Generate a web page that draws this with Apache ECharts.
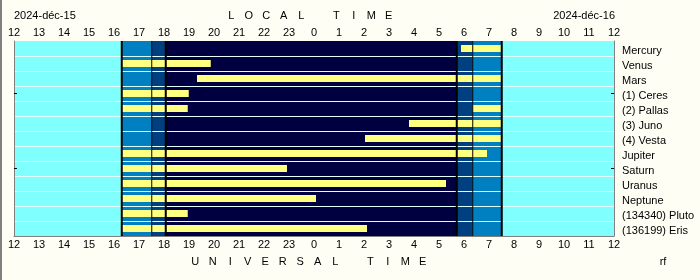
<!DOCTYPE html>
<html>
<head>
<meta charset="utf-8">
<script src="https://cdn.jsdelivr.net/npm/echarts@6/dist/echarts.min.js"></script>
<style>
  html, body { margin: 0; padding: 0; background: #FFFEF5; }
  #chart { width: 700px; height: 280px; }
</style>
</head>
<body>
<div id="chart"></div>
<script>
// Planets listed top to bottom
const planets = ['Mercury', 'Venus', 'Mars', '(1) Ceres', '(2) Pallas', '(3) Juno', '(4) Vesta',
  'Jupiter', 'Saturn', 'Uranus', 'Neptune', '(134340) Pluto', '(136199) Eris'];

// Hour tick labels, noon to noon
const hourLabels = ['12', '13', '14', '15', '16', '17', '18', '19', '20', '21', '22', '23',
  '0', '1', '2', '3', '4', '5', '6', '7', '8', '9', '10', '11', '12'];

// Twilight limits (clock hours): sunset side and sunrise side
const eveningTwilight = [16.31, 17.51, 18.07];
const morningTwilight = [5.71, 6.35, 7.51];

// Visibility segments: [row, start, end] in hours counted from noon of the first day
const visibility = [
  [0, 29.88, 31.51],
  [1, 16.31, 19.87],
  [2, 19.32, 31.51],
  [3, 16.31, 18.99],
  [4, 16.31, 18.95],
  [4, 30.35, 31.51],
  [5, 27.80, 31.51],
  [6, 26.04, 31.51],
  [7, 16.31, 30.92],
  [8, 16.31, 22.92],
  [9, 16.31, 29.28],
  [10, 16.31, 24.08],
  [11, 16.31, 18.95],
  [12, 16.31, 26.12]
];

// Rows carrying an edge tick
const tickedRows = [3, 8];

const dateLeft = '2024-déc-15';
const dateRight = '2024-déc-16';
const topTitle = 'LOCAL TIME';
const bottomTitle = 'UNIVERSAL TIME';
const signature = 'rf';

const HOUR_MIN = 12, HOUR_MAX = 36;
const FONT_FAMILY = '"Liberation Sans", Arial, sans-serif';
const FONT = '11px ' + FONT_FAMILY;
const zoneColours = ['#80FFFF', '#0080C0', '#004080', '#000040'];

const morning = morningTwilight.map(h => h + 24);
// [start, end, colour index]
const zones = [
  [HOUR_MIN, eveningTwilight[0], 0],
  [eveningTwilight[0], eveningTwilight[1], 1],
  [eveningTwilight[1], eveningTwilight[2], 2],
  [eveningTwilight[2], morning[0], 3],
  [morning[0], morning[1], 2],
  [morning[1], morning[2], 1],
  [morning[2], HOUR_MAX, 0]
];
// [hour, line width]
const limits = [
  [eveningTwilight[0], 2], [eveningTwilight[1], 1], [eveningTwilight[2], 2],
  [morning[0], 2], [morning[1], 1], [morning[2], 2]
];
const separators = planets.slice(1).map((_, i) => [HOUR_MIN, i + 1]);

const chart = echarts.init(document.getElementById('chart'), null, { renderer: 'canvas' });

const xAxisBase = {
  type: 'value', min: HOUR_MIN, max: HOUR_MAX, interval: 1, z: 10,
  splitLine: { show: false },
  axisTick: { inside: true, length: 3, lineStyle: { color: '#000', width: 1 } },
  axisLabel: {
    formatter: v => hourLabels[v - HOUR_MIN], color: '#000', fontSize: 11,
    fontFamily: FONT_FAMILY, margin: 3,
    showMinLabel: true, showMaxLabel: true
  }
};
const yAxisBase = {
  type: 'category', data: planets, inverse: true, z: 10,
  axisLine: { show: true, lineStyle: { color: '#808080', width: 1 } },
  axisTick: { show: true, inside: true, length: 3, alignWithLabel: true,
    interval: i => tickedRows.includes(i), lineStyle: { color: '#000' } },
  splitLine: { show: false }
};

// Letter-spaced caption centred on cx
function spacedLetters(str, cx, y) {
  const step = 17.5;
  const start = cx - (str.length - 1) * step / 2;
  return str.split('').map((c, i) => ({
    type: 'text', silent: true,
    style: { text: c, x: start + i * step, y, font: FONT, fill: '#000', align: 'center', verticalAlign: 'middle' }
  })).filter(e => e.style.text !== ' ');
}

chart.setOption({
  animation: false,
  backgroundColor: '#FFFEF5',
  grid: { left: 14, right: 86, top: 41, bottom: 44, containLabel: false },
  xAxis: [
    Object.assign({}, xAxisBase, { position: 'bottom',
      axisLine: { show: true, lineStyle: { color: '#808080', width: 1 } } }),
    Object.assign({}, xAxisBase, { position: 'top', axisLine: { show: false } })
  ],
  yAxis: [
    Object.assign({}, yAxisBase, { position: 'right',
      axisLabel: {
        margin: 8, interval: 0, hideOverlap: false,
        formatter: v => '{n|' + v + '}',
        rich: { n: { color: '#000', fontSize: 11, fontFamily: FONT_FAMILY, padding: [5, 0, 0, 0] } }
      } }),
    Object.assign({}, yAxisBase, { position: 'left', axisLabel: { show: false } })
  ],
  series: [
    {
      // day, twilight and night background
      type: 'custom', z: 1, silent: true, data: zones, encode: { x: [0, 1] },
      renderItem(params, api) {
        const cs = params.coordSys;
        const x0 = api.coord([api.value(0), 0])[0];
        const x1 = api.coord([api.value(1), 0])[0];
        return { type: 'rect', shape: { x: x0, y: cs.y, width: x1 - x0, height: cs.height },
          style: { fill: zoneColours[api.value(2)] } };
      }
    },
    {
      // row separators
      type: 'custom', z: 2, silent: true, data: separators, encode: { x: 0, y: 1 },
      renderItem(params, api) {
        const cs = params.coordSys;
        const y = api.coord([api.value(0), api.value(1)])[1] - api.size([0, 1])[1] / 2;
        return { type: 'rect', shape: { x: cs.x, y: Math.round(y), width: cs.width, height: 1 },
          style: { fill: '#E0FFFF' } };
      }
    },
    {
      // visibility bars
      type: 'custom', z: 3, silent: true,
      data: visibility.map(d => [d[1], d[2], d[0]]), encode: { x: [0, 1], y: 2 },
      renderItem(params, api) {
        const p0 = api.coord([api.value(0), api.value(2)]);
        const p1 = api.coord([api.value(1), api.value(2)]);
        const h = 7;
        return { type: 'rect', shape: { x: p0[0], y: Math.round(p0[1] - h / 2), width: p1[0] - p0[0], height: h },
          style: { fill: '#FFFF80' } };
      }
    },
    {
      // twilight limit lines
      type: 'custom', z: 4, silent: true, data: limits, encode: { x: 0 },
      renderItem(params, api) {
        const cs = params.coordSys;
        const x = api.coord([api.value(0), 0])[0];
        const w = api.value(1);
        return { type: 'rect', shape: { x: x - w / 2, y: cs.y, width: w, height: cs.height },
          style: { fill: '#000' } };
      }
    }
  ],
  graphic: [
    { type: 'rect', silent: true, shape: { x: 0, y: 0, width: 2, height: 280 }, style: { fill: '#808080' } },
    { type: 'text', silent: true, style: { text: dateLeft, x: 14, y: 16, font: FONT, fill: '#000', align: 'left', verticalAlign: 'middle' } },
    { type: 'text', silent: true, style: { text: dateRight, x: 615, y: 16, font: FONT, fill: '#000', align: 'right', verticalAlign: 'middle' } },
    { type: 'text', silent: true, style: { text: signature, x: 663, y: 262, font: FONT, fill: '#000', align: 'center', verticalAlign: 'middle' } }
  ]
    .concat(spacedLetters(topTitle, 310, 16))
    .concat(spacedLetters(bottomTitle, 309, 262))
});
</script>
</body>
</html>
